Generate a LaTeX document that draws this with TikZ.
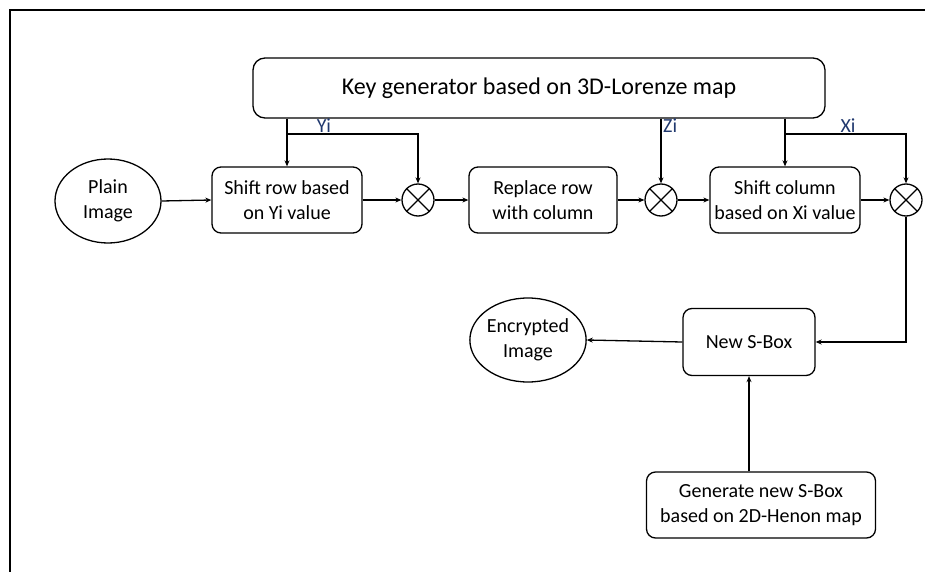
\documentclass[tikz,border=0pt]{standalone}
\usepackage{fontspec}
\setmainfont{Carlito}
\usetikzlibrary{shapes.geometric,arrows.meta}
\definecolor{lblblue}{RGB}{32,56,110}
\tikzset{
  box/.style={draw,line width=1.3pt,rounded corners=9pt,align=center,inner sep=0pt,font=\fontsize{20}{25}\selectfont},
  oval/.style={draw,ellipse,line width=1.3pt,align=center,inner sep=0pt,font=\fontsize{20}{25}\selectfont},
  mix/.style={draw,circle,line width=1.3pt,minimum size=32pt,inner sep=0pt},
  arr/.style={line width=1.3pt,-{Stealth[length=6pt,width=5pt]}},
  ln/.style={line width=1.3pt},
  lbl/.style={text=lblblue,font=\fontsize{20}{24}\selectfont,inner sep=1pt}
}
\begin{document}
\begin{tikzpicture}[x=1pt,y=-1pt]
\useasboundingbox (0,0) rectangle (925,572);
\draw[line width=2.2pt] (10,572) -- (10,10) -- (925,10);

\node[box,minimum width=572pt,minimum height=60pt,rounded corners=12pt,font=\fontsize{24}{28}\selectfont] (key) at (539,88) {Key generator based on 3D-Lorenze map};
\node[oval,minimum width=106pt,minimum height=84pt] (plain) at (108,201) {Plain\\Image};
\node[box,minimum width=150pt,minimum height=66pt] (sr) at (287,200) {Shift row based\\on Yi value};
\node[mix] (c1) at (418,200) {};
\node[box,minimum width=148pt,minimum height=66pt] (rr) at (543,200) {Replace row\\with column};
\node[mix] (c2) at (661,200) {};
\node[box,minimum width=150pt,minimum height=66pt] (sc) at (785,200) {Shift column\\based on Xi value};
\node[mix] (c3) at (906,200) {};
\node[box,minimum width=132pt,minimum height=67pt] (nsb) at (749,342) {New S-Box};
\node[oval,minimum width=106pt,minimum height=84pt] (enc) at (528,340) {Encrypted\\Image};
\node[box,minimum width=229pt,minimum height=66pt] (gen) at (761,505) {Generate new S-Box\\based on 2D-Henon map};

\foreach \c in {c1,c2,c3}{
  \draw[ln] (\c.north west) -- (\c.south east);
  \draw[ln] (\c.north east) -- (\c.south west);
}

\draw[arr] (plain.east) -- (sr.west);
\draw[arr] (sr.east) -- (c1.west);
\draw[arr] (c1.east) -- (rr.west);
\draw[arr] (rr.east) -- (c2.west);
\draw[arr] (c2.east) -- (sc.west);
\draw[arr] (sc.east) -- (c3.west);

\draw[arr] (sr.north |- key.south) -- (sr.north);
\coordinate (yb) at (sr.north |- 0,134);
\draw[arr] (yb) -| (c1.north);
\node[lbl,anchor=south] (yl) at (324,134) {Yi};

\draw[arr] (c2.north |- key.south) -- (c2.north);
\node[lbl,anchor=south west] (zl) at (662,134) {Zi};

\draw[arr] (sc.north |- key.south) -- (sc.north);
\coordinate (xb) at (sc.north |- 0,134);
\draw[arr] (xb) -| (c3.north);
\node[lbl,anchor=south] (xl) at (848,134) {Xi};

\draw[arr] (c3.south) |- (nsb.east);
\draw[arr] (nsb.west) -- (enc.east);
\draw[arr] (nsb.south |- gen.north) -- (nsb.south);
\end{tikzpicture}
\end{document}
